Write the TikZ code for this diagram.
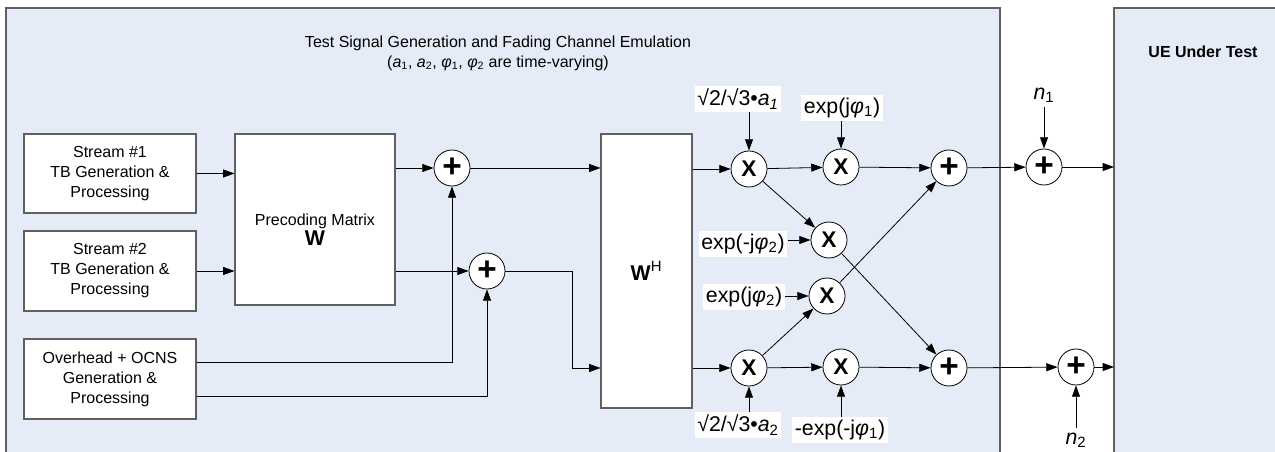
\documentclass[tikz,border=0pt]{standalone}
\usepackage{fontspec}
\setmainfont{Liberation Sans}
\usetikzlibrary{arrows.meta}
\definecolor{panelblue}{RGB}{230,236,247}
\definecolor{edgegray}{RGB}{96,96,96}

\begin{document}
\begin{tikzpicture}[x=0.75pt, y=-0.75pt,
    >={Triangle[length=8.5pt,width=6pt]},
    block/.style={draw=edgegray, line width=0.8pt, fill=white, align=center,
      font=\fontsize{12}{15}\selectfont, inner sep=2pt},
    mixer/.style={draw, circle, fill=white, minimum size=27pt, inner sep=0pt,
      line width=0.6pt, font=\fontsize{17}{17}\selectfont\bfseries},
    adder/.style={mixer, font=\fontsize{25}{25}\selectfont\bfseries},
    lbl/.style={fill=white, inner sep=2pt, font=\fontsize{16}{16}\selectfont},
    sig/.style={->, line width=0.6pt}]

  \useasboundingbox (0,0) rectangle (1275,452);
  \clip (0,0) rectangle (1275,452);

  % Panels
  \draw[edgegray, fill=panelblue, line width=0.9pt] (6,8) rectangle (1000,470);
  \draw[edgegray, fill=panelblue, line width=0.9pt] (1114,8) rectangle (1290,470);
  \coordinate (uein) at (1114,0);

  \node[align=center, font=\fontsize{12}{15}\selectfont] (title) at (498,53)
    {Test Signal Generation and Fading Channel Emulation\\
     (\textit{a}\textsubscript{1}, \textit{a}\textsubscript{2}, \textit{φ}\textsubscript{1}, \textit{φ}\textsubscript{2} are time-varying)};
  \node[font=\fontsize{12}{15}\selectfont\bfseries] (ue) at (1203,52) {UE Under Test};

  % Sources
  \node[block, minimum width=129pt, minimum height=59.25pt] (s1) at (110,173.5)
    {Stream \#1\\TB Generation \&\\Processing};
  \node[block, minimum width=129pt, minimum height=60pt] (s2) at (110,271)
    {Stream \#2\\TB Generation \&\\Processing};
  \node[block, minimum width=129pt, minimum height=60pt] (oh) at (110,379)
    {Overhead + OCNS\\Generation \&\\Processing};

  % Matrices
  \node[block, minimum width=120pt, minimum height=128.25pt] (pm) at (315,219.5) {};
  \node[align=center, font=\fontsize{12}{15}\selectfont] (pmtext) at (315,230)
    {Precoding Matrix\\{\fontsize{16}{16}\selectfont\bfseries W}};
  \node[block, minimum width=68.25pt, minimum height=205.5pt,
    font=\fontsize{16}{16}\selectfont\bfseries] (wh) at (646.5,271)
    {W\textsuperscript{\mdseries H}};

  % Adders and multipliers
  \node[adder] (add1) at (452,168) {+};
  \node[adder] (add2) at (487,271) {+};
  \node[mixer] (mA) at (749,169) {X};
  \node[mixer] (mB) at (841,167) {X};
  \node[adder] (sA) at (949,168) {+};
  \node[adder] (nA) at (1044,167) {+};
  \node[mixer] (mC) at (829,240) {X};
  \node[mixer] (mD) at (827,296) {X};
  \node[mixer] (mE) at (749,368) {X};
  \node[mixer] (mF) at (841,367) {X};
  \node[adder] (sB) at (949,368) {+};
  \node[adder] (nB) at (1076,367) {+};

  % Weights
  \node[lbl] (la1) at (738,99) {√2/√3•\textit{a}\textsubscript{\textit{1}}};
  \node[lbl] (lp1) at (842,108) {exp(j\textit{φ}\textsubscript{1})};
  \node[font=\fontsize{16}{16}\selectfont] (ln1) at (1044,95) {\textit{n}\textsubscript{1}};
  \node[lbl] (lp2m) at (743,244) {exp(-j\textit{φ}\textsubscript{2})};
  \node[lbl] (lp2) at (744,297) {exp(j\textit{φ}\textsubscript{2})};
  \node[lbl] (la2) at (738,425) {√2/√3•\textit{a}\textsubscript{2}};
  \node[lbl] (lp1m) at (840,430) {-exp(-j\textit{φ}\textsubscript{1})};
  \node[font=\fontsize{16}{16}\selectfont] (ln2) at (1076,440) {\textit{n}\textsubscript{2}};

  % Precoding
  \draw[sig] (s1.east) -- (s1.east -| pm.west);
  \draw[sig] (s2.east) -- (s2.east -| pm.west);
  \draw[sig] (pm.east |- add1) -- (add1.west);
  \draw[sig] (pm.east |- add2) -- (add2.west);
  \draw[sig] ([yshift=12.75pt]oh.east) -| (add1.south);
  \draw[sig] ([yshift=-12.75pt]oh.east) -| (add2.south);
  \draw[sig] (add1.east) -- (add1 -| wh.west);
  \coordinate (bend) at (572,368);
  \draw[sig] (add2.east) -| (bend) -- (bend -| wh.west);

  % Fading
  \draw[sig] (wh.east |- mA) -- (mA.west);
  \draw[sig] (wh.east |- mE) -- (mE.west);
  \draw[sig] (mA) -- (mB);
  \draw[sig] (mB) -- (sA);
  \draw[sig] (mA) -- (mC);
  \draw[sig] (mC) -- (sB);
  \draw[sig] (mE) -- (mD);
  \draw[sig] (mD) -- (sA);
  \draw[sig] (mE) -- (mF);
  \draw[sig] (mF) -- (sB);
  \draw[sig] (sA) -- (nA);
  \draw[sig] (sB) -- (nB);
  \draw[sig] (nA) -- (nA -| uein);
  \draw[sig] (nB) -- (nB -| uein);

  \draw[sig] (la1.south -| mA) -- (mA);
  \draw[sig] (lp1.south -| mB) -- (mB);
  \draw[sig] (ln1) -- (nA);
  \draw[sig] (lp2m.east |- mC) -- (mC);
  \draw[sig] (lp2.east |- mD) -- (mD);
  \draw[sig] (la2.north -| mE) -- (mE);
  \draw[sig] (lp1m.north -| mF) -- (mF);
  \draw[sig] (ln2) -- (nB);
\end{tikzpicture}
\end{document}
